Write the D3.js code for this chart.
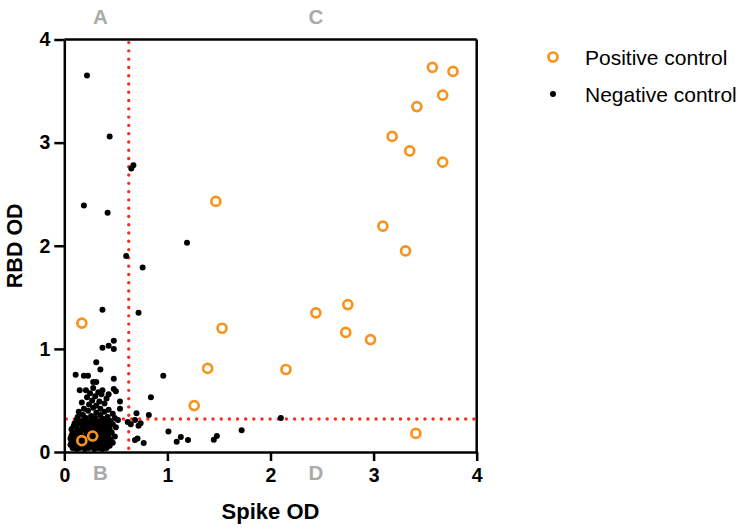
<!DOCTYPE html>
<html>
<head>
<meta charset="utf-8">
<script src="https://cdn.jsdelivr.net/npm/d3@7"></script>
<style>
  body { margin: 0; background: #fff; }
  svg { font-family: "Liberation Sans", Arial, sans-serif; }
</style>
</head>
<body>
<svg id="chart" width="750" height="530"></svg>
<script>
// ---------- DATA ----------
const xTicks = [0, 1, 2, 3, 4];
const yTicks = [0, 1, 2, 3, 4];
const xTitle = "Spike OD";
const yTitle = "RBD OD";
const seriesNames = ["Positive control", "Negative control"];
const quadrantNames = ["A", "B", "C", "D"];
const cutoffSpike = 0.625;
const cutoffRBD = 0.32;

// Positive control: [Spike OD, RBD OD]
const positive = [
  [3.57, 3.73], [3.77, 3.69], [3.67, 3.46], [3.42, 3.35], [3.18, 3.06],
  [3.35, 2.92], [3.67, 2.81], [3.09, 2.19], [3.31, 1.95], [1.47, 2.43],
  [2.44, 1.35], [2.75, 1.43], [2.73, 1.16], [2.97, 1.09], [1.53, 1.20],
  [1.39, 0.81], [2.15, 0.80], [3.41, 0.18], [0.17, 1.25], [1.26, 0.45],
  [0.17, 0.11], [0.275, 0.155]
];

// Negative control: [Spike OD, RBD OD]
const negative = [
  // sparse points
  [0.22, 3.65], [0.44, 3.06], [0.67, 2.78], [0.65, 2.75], [0.19, 2.39],
  [0.42, 2.32], [1.19, 2.03], [0.60, 1.90], [0.76, 1.79], [0.37, 1.38],
  [0.72, 1.35], [0.48, 1.08], [0.43, 1.03], [0.37, 1.01], [0.48, 1.00],
  [0.31, 0.87], [0.35, 0.80], [0.96, 0.74], [0.11, 0.75], [0.19, 0.74],
  [0.23, 0.74], [0.48, 0.71], [0.28, 0.68], [0.31, 0.68], [0.48, 0.61],
  [0.50, 0.59], [0.15, 0.60], [0.37, 0.60], [0.36, 0.56], [0.43, 0.56],
  [0.84, 0.53], [0.54, 0.49], [0.54, 0.42], [0.70, 0.375], [0.82, 0.36],
  [0.615, 0.29], [0.645, 0.27], [0.686, 0.31], [0.72, 0.255], [0.74, 0.28],
  [0.686, 0.116], [0.71, 0.13], [0.77, 0.087], [1.01, 0.20], [1.13, 0.145],
  [1.09, 0.10], [1.20, 0.116], [1.45, 0.12], [1.48, 0.155], [1.72, 0.21],
  [2.10, 0.33],
  // upper part of the cluster
  [0.21, 0.60], [0.28, 0.62],
  [0.25, 0.57], [0.33, 0.58],
  [0.22, 0.53], [0.30, 0.54], [0.41, 0.52],
  [0.27, 0.50], [0.34, 0.49], [0.17, 0.48],
  [0.24, 0.46], [0.31, 0.45], [0.39, 0.47],
  [0.19, 0.42], [0.28, 0.43], [0.35, 0.42], [0.43, 0.41],
  [0.14, 0.39], [0.23, 0.40], [0.31, 0.38], [0.39, 0.39], [0.47, 0.37],
  [0.18, 0.36], [0.26, 0.35], [0.35, 0.36], [0.42, 0.34],
  [0.13, 0.34], [0.21, 0.33], [0.30, 0.33], [0.38, 0.32], [0.49, 0.33],
  // dense core
  [0.12, 0.31], [0.17, 0.30], [0.21, 0.31], [0.26, 0.30], [0.30, 0.31], [0.35, 0.30], [0.40, 0.31], [0.45, 0.30], [0.52, 0.31],
  [0.10, 0.28], [0.15, 0.28], [0.19, 0.27], [0.24, 0.28], [0.29, 0.27], [0.33, 0.28], [0.38, 0.27], [0.42, 0.28], [0.47, 0.27],
  [0.09, 0.25], [0.12, 0.24], [0.18, 0.25], [0.23, 0.24], [0.26, 0.25], [0.32, 0.24], [0.35, 0.25], [0.39, 0.24], [0.43, 0.25], [0.50, 0.24],
  [0.07, 0.22], [0.13, 0.21], [0.17, 0.22], [0.21, 0.21], [0.27, 0.22], [0.31, 0.21], [0.36, 0.22], [0.40, 0.21], [0.44, 0.22],
  [0.08, 0.19], [0.11, 0.18], [0.16, 0.19], [0.22, 0.18], [0.24, 0.20], [0.29, 0.19], [0.33, 0.18], [0.37, 0.19], [0.41, 0.18], [0.46, 0.19],
  [0.07, 0.16], [0.12, 0.15], [0.15, 0.16], [0.20, 0.15], [0.26, 0.16], [0.30, 0.15], [0.35, 0.16], [0.39, 0.15], [0.43, 0.16], [0.49, 0.15],
  [0.06, 0.13], [0.09, 0.12], [0.13, 0.13], [0.18, 0.12], [0.23, 0.13], [0.28, 0.12], [0.32, 0.13], [0.36, 0.12], [0.40, 0.13], [0.45, 0.12],
  [0.07, 0.10], [0.11, 0.09], [0.16, 0.10], [0.21, 0.09], [0.25, 0.10], [0.30, 0.09], [0.34, 0.10], [0.38, 0.09], [0.42, 0.10], [0.47, 0.09],
  [0.06, 0.07], [0.10, 0.06], [0.14, 0.07], [0.18, 0.06], [0.22, 0.07], [0.27, 0.06], [0.31, 0.07], [0.35, 0.06], [0.39, 0.07], [0.44, 0.06],
  [0.08, 0.04], [0.12, 0.03], [0.15, 0.04], [0.20, 0.03], [0.24, 0.04], [0.29, 0.03], [0.33, 0.04], [0.37, 0.03], [0.41, 0.04]
];

// ---------- LAYOUT ----------
const svg = d3.select("#chart");
const pLeft = 64.3, pRight = 476.7, pTop = 39.5, pBottom = 452;
const x = d3.scaleLinear().domain([0, 4]).range([pLeft, pRight]);
const y = d3.scaleLinear().domain([0, 4]).range([pBottom, pTop]);

const orange = "#F7941D";
const red = "#FF2A1A";
const gray = "#AAAAAA";

// cutoff dotted lines
svg.append("line")
  .attr("x1", x(cutoffSpike)).attr("x2", x(cutoffSpike))
  .attr("y1", y(3.97)).attr("y2", y(0.02))
  .attr("stroke", red).attr("stroke-width", 3.4)
  .attr("stroke-linecap", "round").attr("stroke-dasharray", "0 8.28");
svg.append("line")
  .attr("x1", x(0.02)).attr("x2", x(3.98))
  .attr("y1", y(cutoffRBD)).attr("y2", y(cutoffRBD))
  .attr("stroke", red).attr("stroke-width", 3.4)
  .attr("stroke-linecap", "round").attr("stroke-dasharray", "0 8.15");

// negative control points
svg.append("g").selectAll("circle").data(negative).join("circle")
  .attr("cx", d => x(d[0])).attr("cy", d => y(d[1]))
  .attr("r", 3).attr("fill", "#000");

// positive control points
svg.append("g").selectAll("circle").data(positive).join("circle")
  .attr("cx", d => x(d[0])).attr("cy", d => y(d[1]))
  .attr("r", 4.5).attr("fill", "none")
  .attr("stroke", orange).attr("stroke-width", 2.7);

// frame (top & right)
svg.append("line").attr("x1", pLeft).attr("x2", pRight).attr("y1", pTop).attr("y2", pTop)
  .attr("stroke", "#000").attr("stroke-width", 2.5);
svg.append("line").attr("x1", pRight).attr("x2", pRight).attr("y1", pTop).attr("y2", pBottom)
  .attr("stroke", "#000").attr("stroke-width", 2.5);

// axes
const xAxis = svg.append("g").attr("transform", `translate(0,${pBottom})`)
  .call(d3.axisBottom(x).tickValues(xTicks).tickFormat(d3.format("d"))
    .tickSize(9).tickSizeOuter(0).tickPadding(7));
const yAxis = svg.append("g").attr("transform", `translate(${pLeft},0)`)
  .call(d3.axisLeft(y).tickValues(yTicks).tickFormat(d3.format("d"))
    .tickSize(10).tickSizeOuter(0).tickPadding(4));
[xAxis, yAxis].forEach(g => {
  g.select(".domain").attr("stroke", "#000").attr("stroke-width", 2.5);
  g.selectAll(".tick line").attr("stroke", "#000").attr("stroke-width", 2.5);
  g.selectAll(".tick text").attr("fill", "#000")
    .attr("font-size", 19.5).attr("font-weight", "bold")
    .attr("font-family", "Liberation Sans, Arial, sans-serif");
});

// axis titles
svg.append("text").attr("x", x(2)).attr("y", 519)
  .attr("text-anchor", "middle").attr("font-size", 22).attr("font-weight", "bold")
  .text(xTitle);
svg.append("text").attr("transform", `translate(22,${y(2)}) rotate(-90)`)
  .attr("text-anchor", "middle").attr("font-size", 21.5).attr("font-weight", "bold")
  .text(yTitle);

// quadrant labels
const quadPos = [[0.35, 24], [0.35, 480], [2.44, 24], [2.44, 480]];
svg.append("g").selectAll("text").data(quadrantNames).join("text")
  .attr("x", (d, i) => x(quadPos[i][0])).attr("y", (d, i) => quadPos[i][1])
  .attr("text-anchor", "middle").attr("font-size", 20.5).attr("font-weight", "bold")
  .attr("fill", gray).text(d => d);

// legend
const lg = svg.append("g");
lg.append("circle").attr("cx", 553).attr("cy", 57).attr("r", 4.5)
  .attr("fill", "none").attr("stroke", orange).attr("stroke-width", 2.7);
lg.append("circle").attr("cx", 553).attr("cy", 94).attr("r", 3).attr("fill", "#000");
lg.append("text").attr("x", 585).attr("y", 64.5).attr("font-size", 21).text(seriesNames[0]);
lg.append("text").attr("x", 585).attr("y", 101.5).attr("font-size", 21).text(seriesNames[1]);
</script>
</body>
</html>
